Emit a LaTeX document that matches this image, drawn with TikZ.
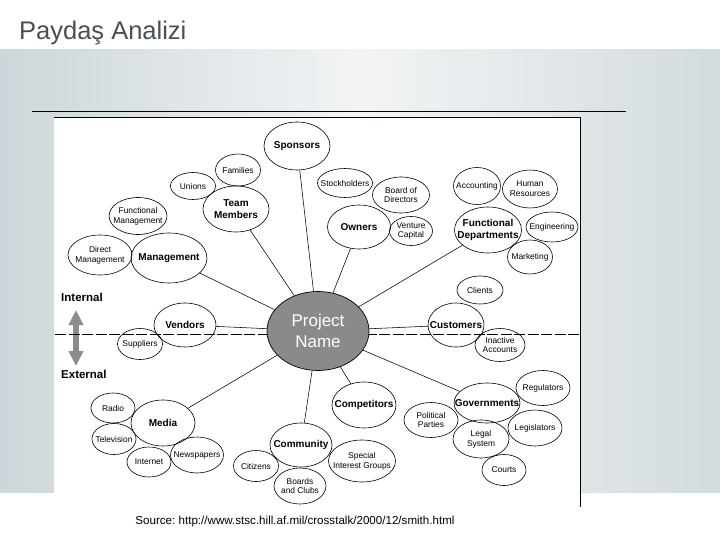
\documentclass[tikz,border=0pt]{standalone}
\usepackage{fontspec}
\setmainfont{Liberation Sans}
\frenchspacing
\usetikzlibrary{shapes.geometric,arrows.meta}
\definecolor{titlec}{HTML}{465058}
\definecolor{bgl}{HTML}{CDD6DA}
\definecolor{bgm}{HTML}{F2F4F5}
\definecolor{bgr}{HTML}{D3DBDE}
\definecolor{projgray}{HTML}{8A8A8A}
\definecolor{arrowgray}{HTML}{8C8C8C}
\begin{document}
\begin{tikzpicture}[x=1pt,y=-1pt,
  oval/.style={ellipse, inner sep=0pt},
  maj/.style={font=\fontsize{10}{11.5}\selectfont\bfseries, align=center, inner sep=0pt},
  mnr/.style={font=\fontsize{8.4}{9.8}\selectfont, align=center, inner sep=0pt},
  link/.style={draw=black, line width=0.55pt},
  side/.style={font=\fontsize{11.5}{13}\selectfont\bfseries, anchor=west, inner sep=0pt}]
\useasboundingbox (0,0) rectangle (720,540);
\fill[white] (0,0) rectangle (720,540);
\shade[left color=bgl, right color=bgr, middle color=bgm] (0,50) rectangle (720,492);
\node[anchor=west, text=titlec, font=\fontsize{25.5}{29}\selectfont, inner sep=0pt] (title) at (19,33) {Paydaş Analizi};
% picture box
\fill[white] (54,117) rectangle (580,507);
\draw[line width=0.8pt] (54,117) -- (580,117) -- (580,507);
\draw[line width=0.8pt] (32,111) -- (626,111);
\coordinate (atop) at (76,310);
\coordinate (abot) at (76,366);
\draw[arrowgray, line width=5.5pt, {Triangle[width=14pt,length=15pt]}-{Triangle[width=14pt,length=15pt]}] (atop) -- (abot);
\node[side] (internal) at (61,297) {Internal};
\node[side] (external) at (61,374) {External};
\def\nodelist{spon/297/146/66/48/Sponsors/maj,
fam/238/170/45/32/Families/mnr,
uni/193/186/45/27/Unions/mnr,
team/236/209/66/46/{Team\\Members}/maj,
fmgmt/138/216/58/37/{Functional\\Management}/mnr,
dmgmt/100/255/64/40/{Direct\\Management}/mnr,
mgmt/169/258/76/50/Management/maj,
stock/345/183/55/29/Stockholders/mnr,
board/401/195/57/36/{Board of\\Directors}/mnr,
own/359/227/63/44/Owners/maj,
vent/411/231/43/29/{Venture\\Capital}/mnr,
acct/477/186/47/37/Accounting/mnr,
hr/530/189/55/38/{Human\\Resources}/mnr,
fd/488/230/67/46/{Functional\\Departments}/maj,
eng/552/227/52/30/Engineering/mnr,
mkt/530/257/45/34/Marketing/mnr,
cli/480/290/46/28/Clients/mnr,
vend/185/325/62/44/Vendors/maj,
supp/140/344/45/31/Suppliers/mnr,
cust/456/325/56/44/Customers/maj,
inact/500/345/50/33/{Inactive\\Accounts}/mnr,
media/163/423/64/46/Media/maj,
radio/113/408/44/30/Radio/mnr,
tv/114/439/44/31/Television/mnr,
inet/149/462/44/30/Internet/mnr,
news/197/455/53/36/Newspapers/mnr,
comm/301/445/62/44/Community/maj,
citi/256/466/45/31/Citizens/mnr,
boards/300/486/52/36/{Boards\\and Clubs}/mnr,
comp/364/405/64/46/Competitors/maj,
sig/362/461/67/42/{Special\\Interest Groups}/mnr,
gov/487/403/66/40/Governments/maj,
reg/543/388/54/35/Regulators/mnr,
pol/431/420/54/35/{Political\\Parties}/mnr,
legal/481/439/56/38/{Legal\\System}/mnr,
legis/535/428/54/36/Legislators/mnr,
courts/504/470/44/31/Courts/mnr}
% pass 1: white fills
\foreach \n/\x/\y/\w/\h/\t/\s in \nodelist {
  \node[oval, fill=white, minimum width=\w pt, minimum height=\h pt] (\n-f) at (\x,\y) {};
}
% pass 2: outlines
\foreach \n/\x/\y/\w/\h/\t/\s in \nodelist {
  \node[oval, draw, line width=0.6pt, minimum width=\w pt, minimum height=\h pt] (\n) at (\x,\y) {};
}
% internal / external divider (over the ovals, under the central node)
\coordinate (divl) at (55,334);
\coordinate (divr) at (580,334);
\draw[dash pattern=on 11pt off 2.5pt, line width=0.7pt] (divl) -- (divr);
% central node
\node[oval, draw, line width=0.7pt, fill=projgray, minimum width=102pt, minimum height=79pt] (proj) at (318,331) {};
\node[text=white, font=\fontsize{17}{21}\selectfont, align=center, inner sep=0pt] (proj-t) at (proj) {Project\\Name};
% texts
\foreach \n/\x/\y/\w/\h/\t/\s in \nodelist {
  \node[\s] (\n-t) at (\x,\y) {\t};
}
% connectors
\foreach \n in {spon,team,mgmt,own,fd,vend,cust,media,comm,comp,gov}
  \draw[link] (\n) -- (proj);
\node[font=\fontsize{11.6}{14}\selectfont, inner sep=0pt] (source) at (295,521) {Source: http://www.stsc.hill.af.mil/crosstalk/2000/12/smith.html};
\end{tikzpicture}
\end{document}
